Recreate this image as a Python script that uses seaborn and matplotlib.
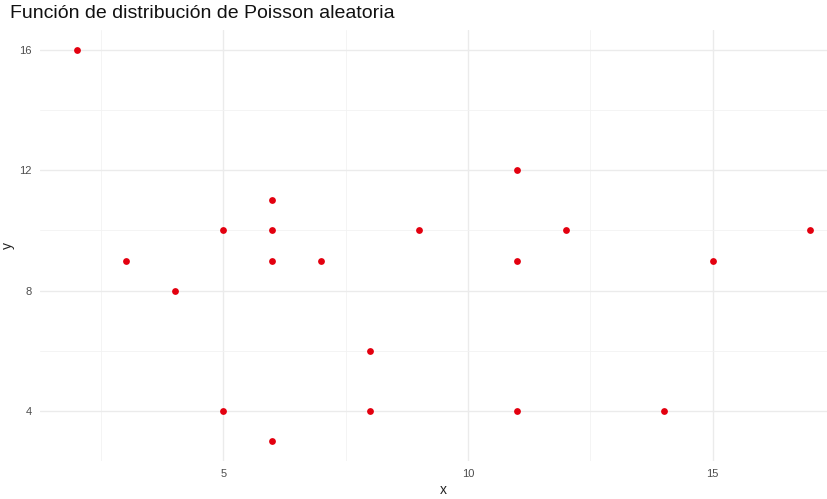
import numpy as np
import pandas as pd
import seaborn as sns
import matplotlib.pyplot as plt

# data
x_vals = [2, 3, 4, 5, 5, 6, 6, 6, 6, 7, 8, 8, 9, 11, 11, 11, 12, 14, 15, 17]
y_vals = [16, 9, 8, 10, 4, 11, 10, 9, 3, 9, 6, 4, 10, 12, 9, 4, 10, 4, 9, 10]
title = 'Función de distribución de Poisson aleatoria'

df = pd.DataFrame({'x': x_vals, 'y': y_vals})

sns.set_theme(style='white')
plt.rcParams['font.family'] = ['Liberation Sans', 'DejaVu Sans']

fig = plt.figure(figsize=(8.27, 4.99), dpi=100)
# panel runs a bit past the right edge, like the cropped reference
ax = fig.add_axes([40 / 827, 1 - 461 / 499, 807 / 827, 431 / 499])

sns.scatterplot(data=df, x='x', y='y', color='#e3000f', s=24, linewidth=0, ax=ax, zorder=3)

ax.set_xlim(1.25, 17.75)
ax.set_ylim(2.35, 16.65)
ax.set_xticks([5, 10, 15])
ax.set_yticks([4, 8, 12, 16])
ax.set_xticks([2.5, 7.5, 12.5, 17.5], minor=True)
ax.set_yticks([6, 10, 14], minor=True)
ax.grid(which='major', color='#ebebeb', linewidth=1.0)
ax.grid(which='minor', color='#f2f2f2', linewidth=0.6)
ax.set_axisbelow(True)
for s in ax.spines.values():
    s.set_visible(False)
ax.tick_params(which='both', length=0, labelsize=8, labelcolor='#4d4d4d', pad=6)

ax.set_xlabel('x', fontsize=10, color='#222222', labelpad=3)
ax.set_ylabel('y', fontsize=10, color='#222222', labelpad=3)
fig.text(10 / 827, 1 - 14 / 499, title, fontsize=14, color='#111111', va='center', ha='left')

fig.savefig('out.png', dpi=100)
